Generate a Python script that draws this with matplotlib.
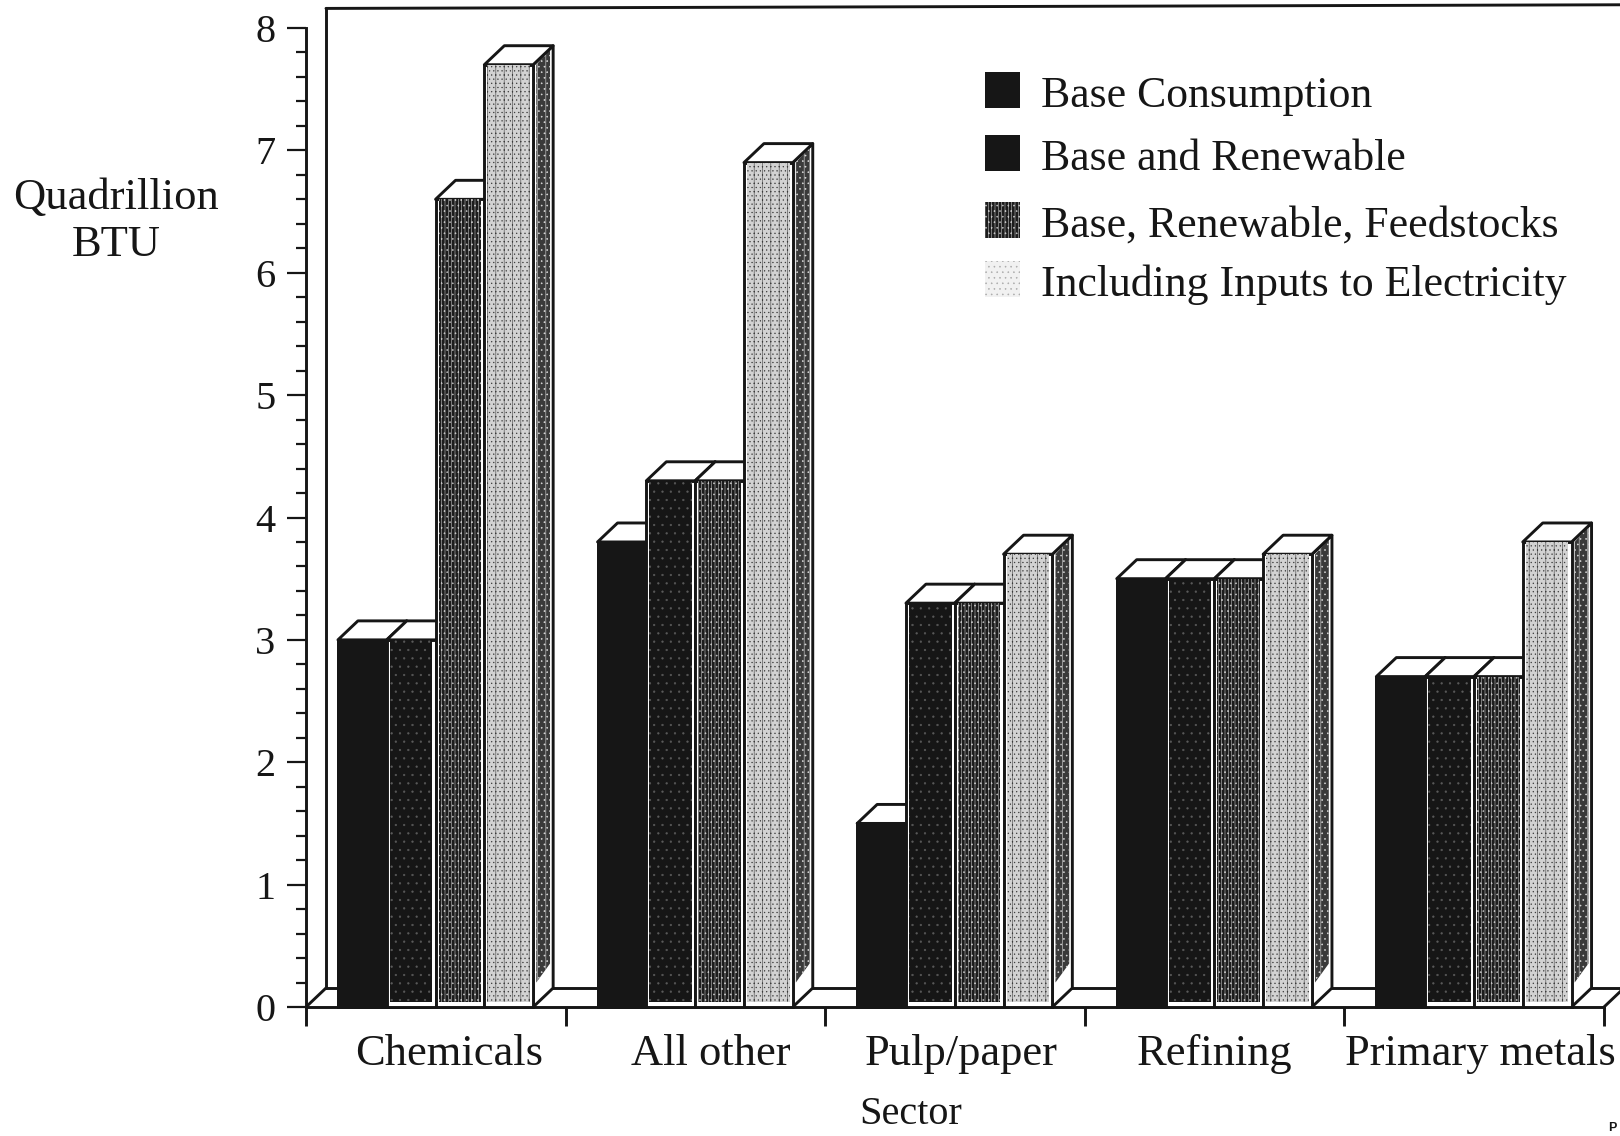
#!/usr/bin/env python
"""Energy use by sector, pseudo-3D scanned bar chart."""

import matplotlib

matplotlib.use("Agg")
import matplotlib.pyplot as plt
import numpy as np
from matplotlib.patches import Polygon, Rectangle

SECTORS = ["Chemicals", "All other", "Pulp/paper", "Refining", "Primary metals"]
SERIES = [
    "Base Consumption",
    "Base and Renewable",
    "Base, Renewable, Feedstocks",
    "Including Inputs to Electricity",
]
BASE = [3.0, 3.8, 1.5, 3.5, 2.7]
RENEWABLE = [3.0, 4.3, 3.3, 3.5, 2.7]
FEEDSTOCKS = [6.6, 4.3, 3.3, 3.5, 2.7]
ELECTRICITY = [7.7, 6.9, 3.7, 3.7, 3.8]
YTICKS = [0, 1, 2, 3, 4, 5, 6, 7, 8]

W, H = 1620, 1136
INK = "#161616"
SERIF = ["Liberation Serif", "DejaVu Serif"]

# face, hatch colour, hatch
STYLES = [
    (INK, INK, None),
    (INK, "#5a5a5a", ".."),
    ("#1c1c1c", "#c4c4c4", "|||||..."),
    ("#d2d2d2", "#3c3c3c", "||...."),
]

plt.rcParams["font.family"] = SERIF
plt.rcParams["hatch.linewidth"] = 0.4

# axes box in pixels of the output
X0, X1, Y0, Y1 = 306, 1604, 1007, 28
fig = plt.figure(figsize=(W / 100, H / 100), dpi=100)
ax = fig.add_axes([X0 / W, 1 - Y0 / H, (X1 - X0) / W, (Y0 - Y1) / H])
ax.set_xlim(0, 5)
ax.set_ylim(0, 8)

DX = 20 * 5 / (X1 - X0)  # depth of the fake 3D in data units
DY = 19 * 8 / (Y0 - Y1)
START = 0.123
BAR_W = 0.188
GUTTER = 0.012
LW = 2.1

for side in ["top", "right"]:
    ax.spines[side].set_visible(False)
for side in ["left", "bottom"]:
    ax.spines[side].set_linewidth(LW)
    ax.spines[side].set_color(INK)

ax.set_xticks(np.arange(6))
ax.set_xticklabels([])
ax.tick_params(axis="x", length=14, width=LW, color=INK)
ax.set_yticks(YTICKS)
ax.set_yticklabels([str(v) for v in YTICKS], fontsize=29, color=INK)
ax.set_yticks(np.arange(0, 8.01, 0.2), minor=True)
ax.tick_params(axis="y", which="major", length=14, width=1.6, color=INK, pad=8)
ax.tick_params(axis="y", which="minor", length=7, width=1.6, color=INK)

# back wall and floor
wall = dict(color=INK, lw=LW, clip_on=False, zorder=1, solid_capstyle="round")
ax.plot([0, DX], [0, DY], **wall)
ax.plot([DX, DX], [DY, 8.16], **wall)
ax.plot([DX, 5.1], [8.16, 8.19], **wall)
ax.plot([DX, 5 + DX], [DY, DY], **wall)
ax.plot([5, 5 + DX], [0, DY], **wall)


def draw_bar(x, h, style, z):
    face, hatch_col, hatch = style
    w = BAR_W
    top = [(x, h), (x + w, h), (x + w + DX, h + DY), (x + DX, h + DY)]
    ax.add_patch(Polygon(top, fc="white", ec=INK, lw=LW, zorder=z, clip_on=False, joinstyle="round"))
    ax.add_patch(Rectangle((x, 0), w, h, fc="white", ec=INK, lw=LW, zorder=z + 0.1, clip_on=False))
    if hatch is None:
        ax.add_patch(Rectangle((x, 0), w, h, fc=face, ec=INK, lw=LW, zorder=z + 0.2, clip_on=False))
    else:
        ax.add_patch(
            Rectangle(
                (x + GUTTER, 0.04), w - 2 * GUTTER, h - 0.04,
                fc=face, ec=hatch_col, hatch=hatch, lw=0, zorder=z + 0.2, clip_on=False,
            )
        )


def draw_side(x, h, z):
    w = BAR_W
    side = [(x + w, 0), (x + w, h), (x + w + DX, h + DY), (x + w + DX, DY)]
    ax.add_patch(Polygon(side, fc="white", ec=INK, lw=LW, zorder=z, clip_on=False, joinstyle="round"))
    inner = [
        (x + w + 0.012, 0.2),
        (x + w + 0.012, h),
        (x + w + DX - 0.012, h + DY - 0.03),
        (x + w + DX - 0.012, DY + 0.2),
    ]
    ax.add_patch(Polygon(inner, fc="#3a3a3a", ec="#dddddd", hatch="||...", lw=0, zorder=z + 0.1, clip_on=False))


# bars, left to right so each one covers the top of the one before
values = [BASE, RENEWABLE, FEEDSTOCKS, ELECTRICITY]
z = 3
for i in range(len(SECTORS)):
    for j, vals in enumerate(values):
        draw_side(i + START + j * BAR_W, vals[i], z)
        draw_bar(i + START + j * BAR_W, vals[i], STYLES[j], z + 0.4)
        z += 1

# sector names, they sit a bit off the tick intervals in the original
LABEL_PX = [449, 711, 961, 1214, 1480]
for name, px in zip(SECTORS, LABEL_PX):
    fig.text(px / W, 1 - 1054 / H, name, ha="center", va="center", fontsize=32, color=INK)
fig.text(911 / W, 1 - 1115 / H, "Sector", ha="center", va="center", fontsize=29, color=INK)
fig.text(116 / W, 1 - 198 / H, "Quadrillion", ha="center", va="center", fontsize=32, color=INK)
fig.text(116 / W, 1 - 245 / H, "BTU", ha="center", va="center", fontsize=32, color=INK)
fig.text(1612 / W, 1 - 1128 / H, "P", ha="center", va="center", fontsize=9, family="Liberation Sans",
         weight="bold", color=INK)

# legend by hand, the row spacing in the original is uneven
LEGEND_Y = [90, 153, 220, 279]
for name, y, style, in zip(SERIES, LEGEND_Y, STYLES):
    face, hatch_col, hatch = style
    if style is STYLES[3]:
        face, hatch_col, hatch = "#f1f1f1", "#aaaaaa", "..."
    if style is STYLES[1]:
        hatch = None
    fig.patches.append(
        Rectangle(
            (985 / W, 1 - (y + 18) / H), 35 / W, 36 / H, transform=fig.transFigure,
            fc=face, ec=hatch_col, hatch=hatch, lw=0, figure=fig,
        )
    )
    fig.text(1041 / W, 1 - (y + 6) / H, name, ha="left", va="center", fontsize=31.5, color=INK)

fig.savefig("out.png", dpi=100, facecolor="white")
